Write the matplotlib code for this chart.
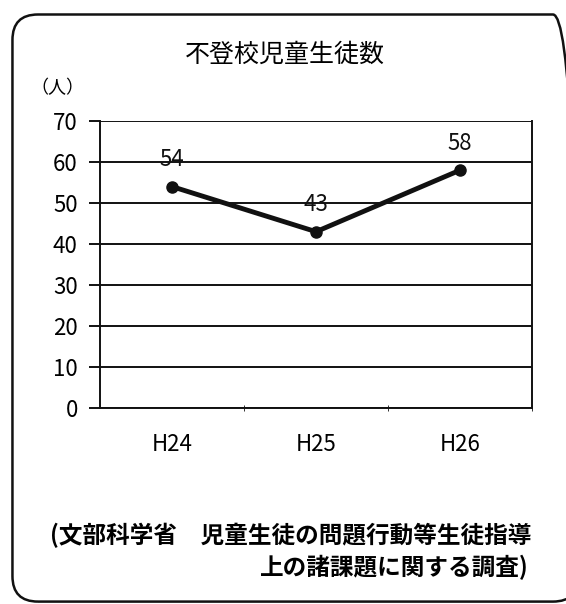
import matplotlib.pyplot as plt
from matplotlib.patches import FancyBboxPatch

plt.rcParams['font.family'] = ['Noto Sans CJK JP', 'DejaVu Sans']

years = ['H24', 'H25', 'H26']
counts = [54, 43, 58]
yticks = [0, 10, 20, 30, 40, 50, 60, 70]

fig = plt.figure(figsize=(5.66, 6.04), dpi=100)

# 角丸の外枠
frame = FancyBboxPatch((0.022, 0.004), 1.0, 0.972, boxstyle='round,pad=0,rounding_size=0.045',
                       transform=fig.transFigure, fill=False, ec='#111111', lw=1.8,
                       clip_on=False, mutation_aspect=566 / 604)
fig.patches.append(frame)

ax = fig.add_axes([0.1767, 0.3245, 0.7633, 0.4752])
x = list(range(len(years)))
ax.plot(x, counts, c='#111111', lw=3.5, marker='o', ms=8, zorder=3)
for xi, v in zip(x, counts):
    ax.annotate(str(v), (xi, v), xytext=(0, 11), textcoords='offset points',
                ha='center', va='bottom', fontsize=16, color='#111111')

ax.set_xlim(-0.5, 2.5)
ax.set_ylim(0, 70)
ax.set_yticks(yticks)
ax.set_yticklabels([str(t) for t in yticks], fontsize=16)
ax.grid(axis='y', color='#111111', lw=1.4)
ax.set_axisbelow(True)

ax.set_xticks(x)
ax.set_xticklabels(years, fontsize=16)
ax.set_xticks([0.5, 1.5, 2.5], minor=True)
ax.tick_params(axis='x', which='major', length=0, pad=18)
ax.tick_params(axis='x', which='minor', length=5, direction='inout', color='#111111')
ax.tick_params(axis='y', length=8, width=1.4, color='#111111', pad=8)

ax.spines['top'].set_visible(False)
for s in ['left', 'bottom', 'right']:
    ax.spines[s].set_color('#111111')
    ax.spines[s].set_linewidth(1.4)

fig.text(0.504, 0.909, '不登校児童生徒数', ha='center', va='center', fontsize=18)
fig.text(0.053, 0.854, '（人）', ha='left', va='center', fontsize=13)
fig.text(0.088, 0.114, '(文部科学省　児童生徒の問題行動等生徒指導', ha='left', va='center',
         fontsize=17, fontweight='bold')
fig.text(0.935, 0.061, '上の諸課題に関する調査)', ha='right', va='center',
         fontsize=17, fontweight='bold')

fig.savefig('out.png', dpi=100)
